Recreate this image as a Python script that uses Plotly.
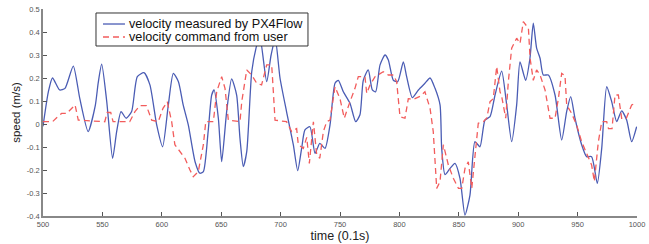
import plotly.graph_objects as go

# measured velocity (PX4Flow)
meas_t = [500, 504.5, 508, 514, 518.5, 525.5, 531, 538, 544, 546.5, 549.4, 553.6, 558.6, 562, 565.7,
          570, 574.6, 579.4, 585, 590, 595.7, 600.7, 605.5, 609.7, 614, 618, 622.3, 628, 632, 635,
          639, 642, 644, 647.6, 650.4, 654.6, 658.8, 663, 665.8, 668.6, 671.5, 675.7, 679.3, 682.5,
          688.3, 692, 695.5, 699.5, 705, 710.7, 714.4, 717.7, 720.5, 724.7, 729, 733, 737.4, 741.6,
          745.8, 748.6, 752.8, 758.4, 763.2, 766.8, 769.6, 773.8, 777.2, 780, 783.7, 787.9, 790.7,
          794.9, 798.6, 803.3, 806.1, 810.9, 816, 821.5, 825.8, 830, 834.2, 835.6, 838.4, 842.6,
          846.8, 851, 855.2, 859.4, 863.6, 867.8, 872, 876.3, 880.5, 886.1, 890.3, 894.5, 898.7,
          901.5, 906.3, 909.9, 912.7, 915.5, 918.4, 921.1, 925.4, 931, 936.6, 940.8, 944.2, 947.8,
          953.4, 957.6, 961.8, 966.6, 970.3, 974.5, 978.7, 982.9, 987.1, 991.3, 995.5, 999.7]
meas_v = [-0.01, 0.14, 0.20, 0.148, 0.155, 0.252, 0.11, -0.033, 0.08, 0.18, 0.26, 0.10, -0.149, -0.033, 0.054,
          0.025, 0.054, 0.206, 0.223, 0.17, -0.004, -0.099, 0.083, 0.22, 0.184, 0.083, -0.004, -0.164, -0.214, -0.207,
          -0.033, 0.126, 0.148, 0.025, -0.164, 0.054, 0.196, 0.126, -0.062, -0.185, -0.12, 0.227, 0.33, 0.38,
          0.184, 0.30, 0.37, 0.2, 0.054, -0.09, -0.203, -0.106, -0.026, -0.012, -0.128, -0.084, -0.106, -0.004,
          0.177, 0.19, 0.14, 0.09, 0.01, 0.04, 0.19, 0.235, 0.148, 0.14, 0.257, 0.30, 0.278,
          0.19, 0.184, 0.27, 0.206, 0.115, 0.148, 0.177, 0.2, 0.155, 0.083, -0.106, -0.22, -0.193,
          -0.171, -0.236, -0.396, -0.309, -0.077, -0.099, 0.017, 0.032, 0.126, 0.23, 0.083, -0.077, 0.083,
          0.27, 0.19, 0.286, 0.438, 0.33, 0.286, 0.213, 0.213, 0.126, -0.07, 0.054, 0.119, 0.025,
          -0.09, -0.142, -0.142, -0.258, -0.106, 0.162, 0.097, 0.01, 0.057, 0.017, -0.077, -0.012]

# user command velocity
cmd_t = [500, 508, 512, 515.7, 520, 524, 527, 529.7, 552, 554, 557, 559, 573, 577.4, 581.6, 587, 591.5, 597,
         601, 604.6, 608.3, 611, 615.3, 619.5, 623.7, 626.5, 630.7, 635, 637, 643.4, 646.2, 650.4, 653.2,
         656, 665.8, 667.3, 671.5, 675.7, 679.9, 684, 688.3, 692.5, 693.9, 695.3, 705, 709.3, 713.5, 714.9,
         719.1, 722, 724.2, 727.6, 730.4, 733, 736, 738.8, 741.6, 744.4, 745.8, 750, 753.6, 758.4, 762.6,
         765.4, 771, 772.5, 775.3, 779.5, 786.4, 790.7, 794.9, 797.7, 800.5, 804.7, 807.5, 811.7, 817.3,
         821.5, 825.8, 828.5, 831.4, 834.2, 837, 841.2, 845.4, 849.7, 852.5, 855.2, 858, 860.9, 863.6,
         866.4, 870.6, 873.5, 876.3, 879, 881.9, 884.7, 886.1, 889.5, 891.7, 894.5, 898.7, 901.5, 904.3,
         908.6, 910, 912.7, 915.5, 918.4, 922.6, 926.8, 931, 933.8, 936.6, 939.4, 940.8, 945, 949.2,
         953.4, 957.6, 961.8, 964.1, 967.4, 970.3, 974.5, 976, 979, 981.5, 984.3, 987.1, 991, 995.5, 999.7]
cmd_v = [0.01, 0.01, 0.03, 0.046, 0.046, 0.068, 0.083, 0.017, 0.01, 0.05, 0.05, 0.01, 0.01, 0.054, 0.08, 0.08, 0.017, 0.01,
         0.068, 0.097, 0.01, -0.09, -0.12, -0.149, -0.2, -0.229, -0.207, -0.09, 0.01, 0.01, 0.14, 0.206, 0.155,
         0.017, 0.01, 0.097, 0.235, 0.213, 0.177, 0.17, 0.257, 0.257, 0.14, 0.017, 0.01, -0.033, -0.02, -0.09,
         -0.106, -0.058, -0.171, 0.01, -0.135, -0.149, -0.033, 0.01, 0.017, 0.11, 0.162, 0.11, 0.025, 0.097, 0.155,
         0.206, 0.206, 0.133, 0.17, 0.206, 0.227, 0.213, 0.213, 0.184, 0.032, 0.025, 0.11, 0.107, 0.12,
         0.14, 0.068, -0.033, -0.28, -0.25, -0.09, -0.178, -0.236, -0.28, -0.28, -0.193, -0.164, -0.28, -0.149,
         0.003, 0.01, 0.025, 0.097, 0.11, 0.25, 0.14, 0.12, 0.025, 0.184, 0.33, 0.373, 0.35, 0.445,
         0.416, 0.286, 0.19, 0.235, 0.213, 0.148, 0.025, 0.025, 0.11, 0.22, 0.21, 0.083, 0.046, -0.004,
         -0.077, -0.128, -0.178, -0.25, -0.08, 0.01, 0.01, -0.02, -0.02, 0.126, 0.126, 0.025, 0.025, 0.083, 0.09]

x_ticks = [500, 550, 600, 650, 700, 750, 800, 850, 900, 950, 1000]
y_ticks = [-0.4, -0.3, -0.2, -0.1, 0, 0.1, 0.2, 0.3, 0.4, 0.5]
y_labels = ["-0.4", "-0.3", "-0.2", "-0.1", "0", "0.1", "0.2", "0.3", "0.4", "0.5"]
series_names = ["velocity measured by PX4Flow", "velocity command from user"]
series_colors = ["#4a5cb4", "#f25c5c"]
series_dash = ["solid", "6px,4px"]

fig = go.Figure()
fig.add_trace(go.Scatter(x=meas_t, y=meas_v, mode="lines", name=series_names[0],
                         line=dict(color=series_colors[0], width=1.3, shape="spline", smoothing=0.6)))
fig.add_trace(go.Scatter(x=cmd_t, y=cmd_v, mode="lines", name=series_names[1],
                         line=dict(color=series_colors[1], width=1.3, dash=series_dash[1])))

# compact legend drawn as box + samples + text (paper coords of the plot area)
shapes = [dict(type="rect", xref="paper", yref="paper", x0=0.0892, x1=0.4461, y0=0.8213, y1=0.9807,
               fillcolor="white", line=dict(color="#333", width=1), layer="above")]
annotations = []
rows_y = [0.9275, 0.8647]
for i in range(2):
    shapes.append(dict(type="line", xref="paper", yref="paper", x0=0.1010, x1=0.1380, y0=rows_y[i], y1=rows_y[i],
                       line=dict(color=series_colors[i], width=1.3, dash=series_dash[i]), layer="above"))
    annotations.append(dict(text=series_names[i], xref="paper", yref="paper", x=0.1430, y=rows_y[i],
                            xanchor="left", yanchor="middle", showarrow=False, borderpad=0,
                            font=dict(size=12.7, color="#111")))

fig.update_layout(
    width=649, height=244,
    margin=dict(l=43, r=12, t=9, b=28),
    paper_bgcolor="white", plot_bgcolor="white",
    font=dict(family="Liberation Sans, Arial, sans-serif", color="#222"),
    showlegend=False,
    shapes=shapes, annotations=annotations,
    xaxis=dict(range=[500, 1000], tickmode="array", tickvals=x_ticks, automargin=False,
               ticks="inside", ticklen=4, tickcolor="#555",
               showline=True, linecolor="#888", linewidth=1.5,
               showgrid=False, zeroline=False,
               tickfont=dict(size=7.5, color="#555"),
               title=dict(text="time (0.1s)", font=dict(size=12.5, color="#222"), standoff=0)),
    yaxis=dict(range=[-0.4, 0.5], tickmode="array", tickvals=y_ticks, ticktext=y_labels, automargin=False,
               ticks="inside", ticklen=4, tickcolor="#555",
               showline=True, linecolor="#888", linewidth=1.5,
               showgrid=False, zeroline=False,
               tickfont=dict(size=7.5, color="#555"),
               title=dict(text="speed (m/s)", font=dict(size=11.5, color="#222"), standoff=4)),
)

fig.write_html("out.html", config={"displayModeBar": False},
               post_script="document.body.style.margin='0';document.body.style.overflow='hidden';")
